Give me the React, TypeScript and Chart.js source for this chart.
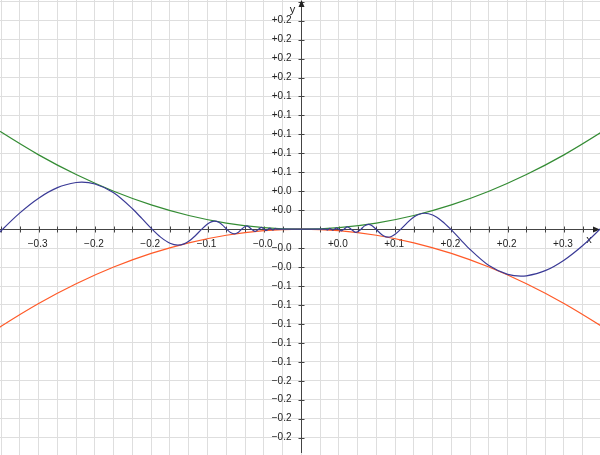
import { useEffect, useRef } from "react";
import { Chart, registerables } from "chart.js";

Chart.register(...registerables);

// Visible window of the plot (axis units)
const X_MIN = -0.3212;
const X_MAX = 0.3184;
const Y_MIN = -0.2383;
const Y_MAX = 0.2418;

// Envelope curves
const envelopeXs = [-0.33, -0.32, -0.28, -0.24, -0.2, -0.16, -0.12, -0.08, -0.04, 0, 0.04, 0.08, 0.12, 0.16, 0.2, 0.24, 0.28, 0.32, 0.33];
const upperValues = [0.1089, 0.1024, 0.0784, 0.0576, 0.04, 0.0256, 0.0144, 0.0064, 0.0016, 0, 0.0016, 0.0064, 0.0144, 0.0256, 0.04, 0.0576, 0.0784, 0.1024, 0.1089];
const lowerValues = [-0.1089, -0.1024, -0.0784, -0.0576, -0.04, -0.0256, -0.0144, -0.0064, -0.0016, 0, -0.0016, -0.0064, -0.0144, -0.0256, -0.04, -0.0576, -0.0784, -0.1024, -0.1089];

// Oscillating curve
const waveXs = [
  -0.33, -0.32, -0.3, -0.28, -0.26, -0.24, -0.234, -0.22, -0.2, -0.18, -0.17, -0.1592,
  -0.15, -0.14, -0.1316, -0.125, -0.12, -0.113, -0.1061,
  -0.1, -0.096, -0.0925, -0.088, -0.084, -0.0796,
  -0.075, -0.0715, -0.067, -0.0637, -0.058, -0.0531, -0.049, -0.0455, -0.0424, -0.0398,
  -0.0374, -0.0354, -0.0335, -0.0318, -0.0303, -0.0289, -0.0277, -0.0265,
  0,
  0.0265, 0.0277, 0.0289, 0.0303, 0.0318, 0.0335, 0.0354, 0.0374,
  0.0398, 0.0424, 0.0455, 0.049, 0.0531, 0.058, 0.0637, 0.067, 0.0715, 0.075,
  0.0796, 0.084, 0.088, 0.0925, 0.096, 0.1,
  0.1061, 0.113, 0.12, 0.125, 0.1316, 0.14, 0.15,
  0.1592, 0.17, 0.18, 0.2, 0.22, 0.234, 0.24, 0.26, 0.28, 0.3, 0.32, 0.33,
];
const waveValues = [
  -0.0121, -0.0017, 0.0172, 0.0327, 0.0438, 0.0492, 0.0496, 0.0477, 0.0384, 0.0215, 0.0113, 0,
  -0.0084, -0.0149, -0.0168, -0.0155, -0.0128, -0.0069, 0,
  0.0054, 0.0077, 0.0084, 0.0072, 0.0043, 0,
  -0.0039, -0.005, -0.0032, 0, 0.0034, 0, -0.0024, 0, 0.0018, 0,
  -0.0014, 0, 0.0011, 0, -0.0009, 0, 0.0008, 0,
  0,
  0, -0.0008, 0, 0.0009, 0, -0.0011, 0, 0.0014,
  0, -0.0018, 0, 0.0024, 0, -0.0034, 0, 0.0032, 0.005, 0.0039,
  0, -0.0043, -0.0072, -0.0084, -0.0077, -0.0054,
  0, 0.0069, 0.0128, 0.0155, 0.0168, 0.0149, 0.0084,
  0, -0.0113, -0.0215, -0.0384, -0.0477, -0.0496, -0.0492, -0.0438, -0.0327, -0.0172, 0.0017, 0.0121,
];

// Grid / tick-mark positions
const gridXs = [-0.32, -0.3, -0.28, -0.26, -0.24, -0.22, -0.2, -0.18, -0.16, -0.14, -0.12, -0.1, -0.08, -0.06, -0.04, -0.02, 0, 0.02, 0.04, 0.06, 0.08, 0.1, 0.12, 0.14, 0.16, 0.18, 0.2, 0.22, 0.24, 0.26, 0.28, 0.3];
const gridYs = [-0.22, -0.2, -0.18, -0.16, -0.14, -0.12, -0.1, -0.08, -0.06, -0.04, -0.02, 0, 0.02, 0.04, 0.06, 0.08, 0.1, 0.12, 0.14, 0.16, 0.18, 0.2, 0.22, 0.24];

// Tick labels
const xLabelValues = [-0.28, -0.22, -0.16, -0.1, -0.04, 0.04, 0.1, 0.16, 0.22, 0.28];
const xLabelTexts = ["\u22120.3", "\u22120.2", "\u22120.2", "\u22120.1", "\u22120.0", "+0.0", "+0.1", "+0.2", "+0.2", "+0.3"];
const yLabelValues = [0.22, 0.2, 0.18, 0.16, 0.14, 0.12, 0.1, 0.08, 0.06, 0.04, 0.02, -0.02, -0.04, -0.06, -0.08, -0.1, -0.12, -0.14, -0.16, -0.18, -0.2, -0.22];
const yLabelTexts = ["+0.2", "+0.2", "+0.2", "+0.2", "+0.1", "+0.1", "+0.1", "+0.1", "+0.1", "+0.0", "+0.0", "\u22120.0", "\u22120.0", "\u22120.1", "\u22120.1", "\u22120.1", "\u22120.1", "\u22120.1", "\u22120.2", "\u22120.2", "\u22120.2", "\u22120.2"];

const AXIS_COLOR = "#444444";
const LABEL_COLOR = "#222222";
const FONT = '"Liberation Sans", Arial, sans-serif';

const centerAxesPlugin = {
  id: "centerAxes",
  beforeDatasetsDraw(chart: any) {
    const ctx = chart.ctx as CanvasRenderingContext2D;
    const xs = chart.scales.x;
    const ys = chart.scales.y;
    const { left, right, top, bottom } = chart.chartArea;
    const x0 = Math.round(xs.getPixelForValue(0)) + 0.5;
    const y0 = Math.round(ys.getPixelForValue(0)) + 0.5;
    ctx.save();
    ctx.strokeStyle = AXIS_COLOR;
    ctx.lineWidth = 1;
    ctx.beginPath();
    ctx.moveTo(left, y0);
    ctx.lineTo(right - 5, y0);
    ctx.moveTo(x0, bottom - 2);
    ctx.lineTo(x0, top + 5);
    gridXs.forEach((v) => {
      if (v === 0) return;
      const px = Math.round(xs.getPixelForValue(v)) + 0.5;
      ctx.moveTo(px, y0 - 3);
      ctx.lineTo(px, y0 + 3);
    });
    gridYs.forEach((v) => {
      if (v === 0) return;
      const py = Math.round(ys.getPixelForValue(v)) + 0.5;
      ctx.moveTo(x0 - 3, py);
      ctx.lineTo(x0 + 3, py);
    });
    ctx.stroke();

    // arrow heads
    ctx.fillStyle = "#222222";
    ctx.beginPath();
    ctx.moveTo(right, y0);
    ctx.lineTo(right - 7, y0 - 3);
    ctx.lineTo(right - 7, y0 + 3);
    ctx.closePath();
    ctx.fill();
    ctx.beginPath();
    ctx.moveTo(x0, top);
    ctx.lineTo(x0 - 3, top + 7);
    ctx.lineTo(x0 + 3, top + 7);
    ctx.closePath();
    ctx.fill();

    // tick labels
    ctx.fillStyle = LABEL_COLOR;
    ctx.font = `10px ${FONT}`;
    ctx.textAlign = "center";
    ctx.textBaseline = "middle";
    xLabelValues.forEach((v, i) => {
      ctx.fillText(xLabelTexts[i], xs.getPixelForValue(v) - 1, y0 + 15);
    });
    ctx.textAlign = "right";
    yLabelValues.forEach((v, i) => {
      ctx.fillText(yLabelTexts[i], x0 - 10, ys.getPixelForValue(v));
    });

    // axis names
    ctx.font = `11px ${FONT}`;
    ctx.textAlign = "center";
    ctx.fillText("x", right - 11, y0 + 10);
    ctx.fillText("y", x0 - 9, top + 10);
    ctx.restore();
  },
};

function toPoints(xs: number[], ys: number[]) {
  return xs.map((x, i) => ({ x, y: ys[i] }));
}

export default function App() {
  const canvasRef = useRef<HTMLCanvasElement | null>(null);

  useEffect(() => {
    document.body.style.margin = "0";
    const canvas = canvasRef.current;
    if (!canvas) return;
    const lineBase = {
      showLine: true,
      pointRadius: 0,
      borderWidth: 1.2,
      fill: false,
      cubicInterpolationMode: "monotone" as const,
    };
    const chart = new Chart(canvas, {
      type: "scatter",
      data: {
        datasets: [
          { ...lineBase, label: "wave", data: toPoints(waveXs, waveValues), borderColor: "#3a3a96" },
          { ...lineBase, label: "upper", data: toPoints(envelopeXs, upperValues), borderColor: "#348c34" },
          { ...lineBase, label: "lower", data: toPoints(envelopeXs, lowerValues), borderColor: "#ff5a28" },
        ],
      },
      options: {
        animation: false,
        responsive: false,
        events: [],
        layout: { padding: 0 },
        plugins: { legend: { display: false }, tooltip: { enabled: false }, title: { display: false } },
        scales: {
          x: {
            type: "linear",
            min: X_MIN,
            max: X_MAX,
            afterBuildTicks: (scale: any) => {
              scale.ticks = gridXs.map((v) => ({ value: v }));
            },
            ticks: { display: false },
            grid: { color: "#dedede", drawTicks: false, lineWidth: 1 },
            border: { display: false },
          },
          y: {
            type: "linear",
            min: Y_MIN,
            max: Y_MAX,
            afterBuildTicks: (scale: any) => {
              scale.ticks = gridYs.map((v) => ({ value: v }));
            },
            ticks: { display: false },
            grid: { color: "#dedede", drawTicks: false, lineWidth: 1 },
            border: { display: false },
          },
        },
      },
      plugins: [centerAxesPlugin],
    });
    return () => chart.destroy();
  }, []);

  return (
    <div style={{ width: 600, height: 455, background: "#ffffff" }}>
      <canvas ref={canvasRef} width={600} height={455} style={{ display: "block" }} />
    </div>
  );
}
